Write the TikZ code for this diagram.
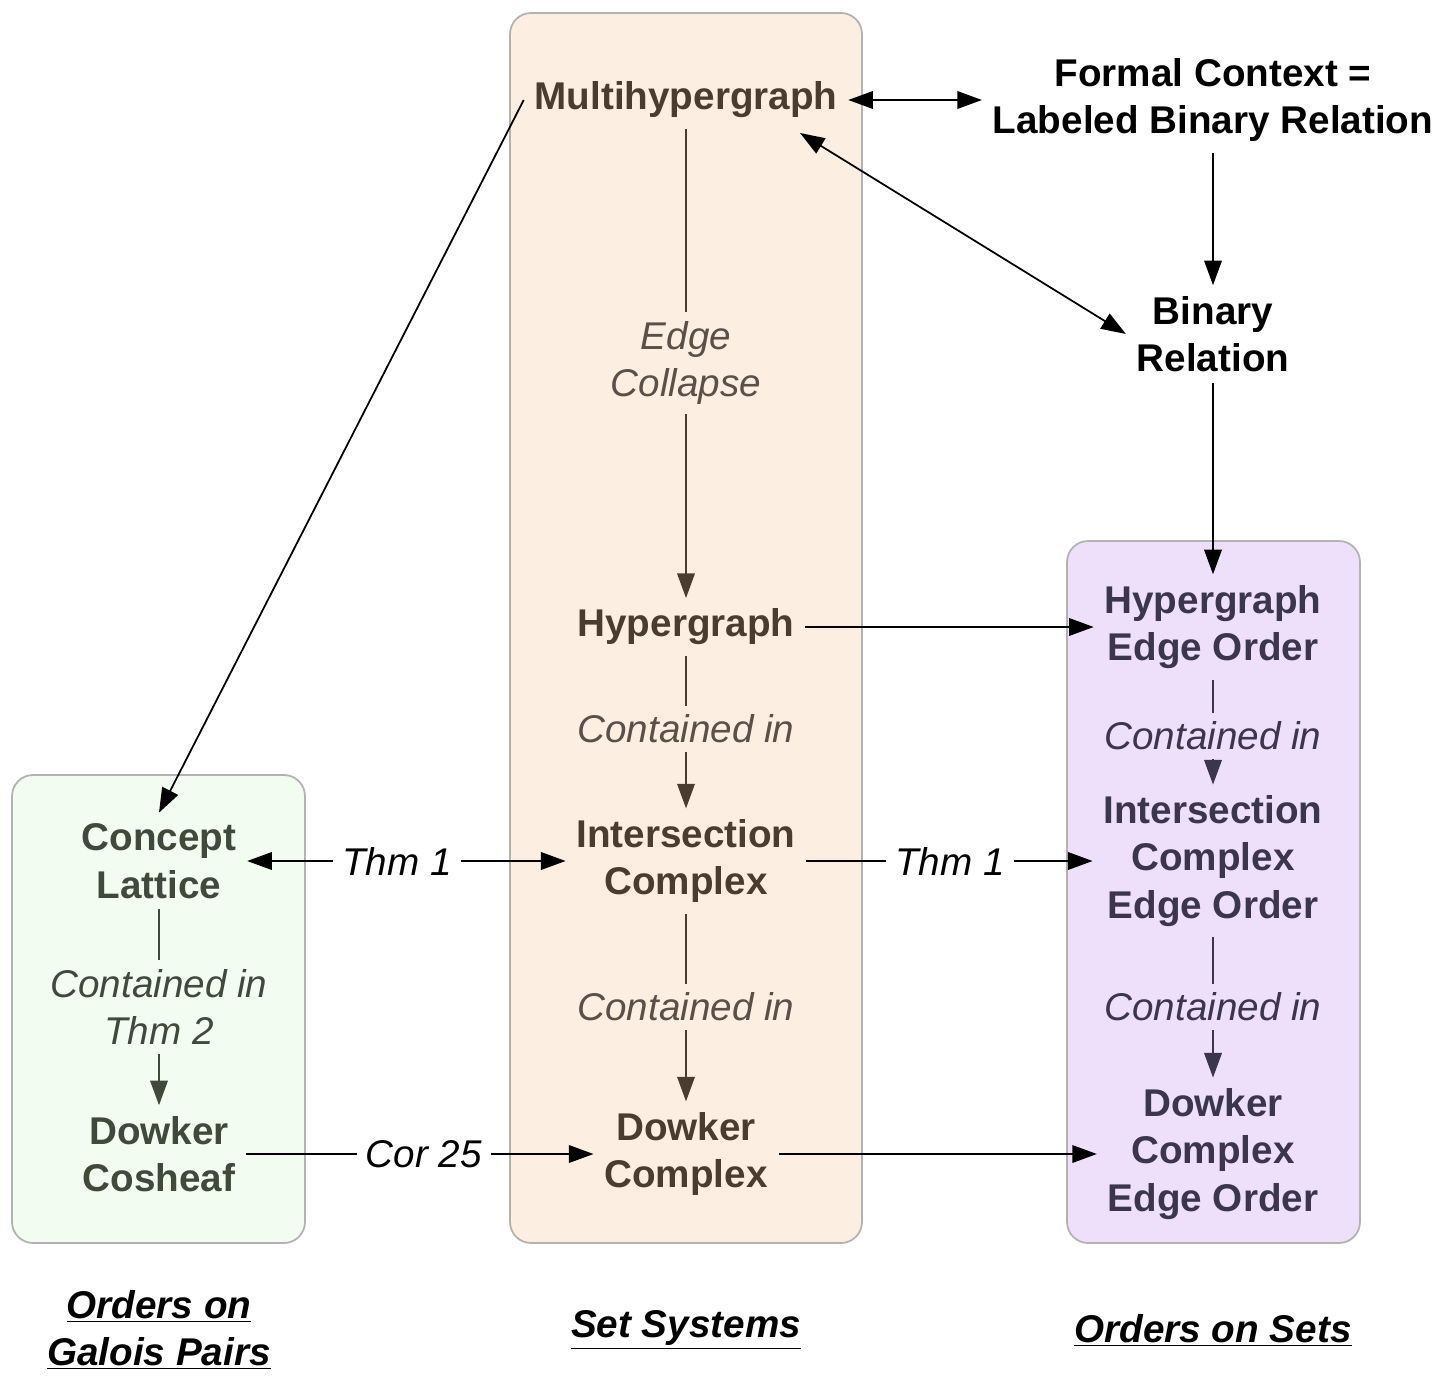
\documentclass[tikz,border=0pt]{standalone}
\usepackage{fontspec}
\setmainfont{Liberation Sans}
\usetikzlibrary{arrows.meta}
\definecolor{setfill}{HTML}{FCEFE2}
\definecolor{galfill}{HTML}{F2FCF0}
\definecolor{ordfill}{HTML}{EEE0FA}
\definecolor{settext}{HTML}{4A3C2E}
\definecolor{galtext}{HTML}{3E4A3A}
\definecolor{ordtext}{HTML}{3C3550}
\definecolor{labtext}{HTML}{5A5048}
\tikzset{
  panel/.style={draw=black!30, line width=1pt, rounded corners=12pt},
  item/.style={font=\fontsize{22}{27}\selectfont\bfseries, align=center, inner sep=6pt},
  lab/.style={font=\fontsize{22}{27}\selectfont\itshape, align=center, inner sep=5pt},
  title/.style={font=\fontsize{22}{27}\selectfont\bfseries\itshape, align=center},
  conn/.style={line width=1pt, -{Triangle[length=14pt,width=10pt]}},
  link/.style={line width=1pt}
}
\begin{document}
\begin{tikzpicture}[x=0.02cm,y=-0.02cm]
  \useasboundingbox (0,0) rectangle (1442,1382);
  % panels
  \filldraw[panel, fill=galfill] (12,775) rectangle (305,1243);
  \filldraw[panel, fill=setfill] (510,13) rectangle (862,1243);
  \filldraw[panel, fill=ordfill] (1067,541) rectangle (1360,1243);
  % set systems
  \node[item, text=settext] (multi) at (686,100) {Multihypergraph};
  \node[item, text=settext] (hyper) at (686,627) {Hypergraph};
  \node[item, text=settext] (inter) at (686,861) {Intersection\\Complex};
  \node[item, text=settext] (dowker) at (686,1154) {Dowker\\Complex};
  % top right
  \node[item] (formal) at (1213,100) {Formal Context =\\Labeled Binary Relation};
  \node[item] (binrel) at (1213,334) {Binary\\Relation};
  % orders on sets
  \node[item, text=ordtext] (hyperEO) at (1213,627) {Hypergraph\\Edge Order};
  \node[item, text=ordtext] (interEO) at (1213,861) {Intersection\\Complex\\Edge Order};
  \node[item, text=ordtext] (dowkerEO) at (1213,1154) {Dowker\\Complex\\Edge Order};
  % galois pairs
  \node[item, text=galtext] (concept) at (159,861) {Concept\\Lattice};
  \node[item, text=galtext] (cosheaf) at (159,1154) {Dowker\\Cosheaf};
  % edge labels
  \node[lab, text=labtext] (collapse) at (686,363) {Edge\\Collapse};
  \node[lab, text=labtext] (cin1) at (686,729) {Contained in};
  \node[lab, text=labtext] (cin2) at (686,1007) {Contained in};
  \node[lab, text=ordtext] (cin3) at (1213,736) {Contained in};
  \node[lab, text=ordtext] (cin4) at (1213,1007) {Contained in};
  \node[lab, text=galtext] (cin5) at (159,1007) {Contained in\\Thm 2};
  \node[lab] (thmA) at (397,861) {Thm 1};
  \node[lab] (thmB) at (950,861) {Thm 1};
  \node[lab] (cor) at (424,1154) {Cor 25};
  \coordinate (multiSE) at (800,133);
  % titles
  \node[title] (tGal) at (159,1330) {\underline{Orders on}\\\underline{Galois Pairs}};
  \node[title] (tSet) at (686,1330) {\underline{Set Systems}};
  \node[title] (tOrd) at (1213,1330) {\underline{Orders on Sets}};
  % connectors
  \draw[conn, {Triangle[length=14pt,width=10pt]}-{Triangle[length=14pt,width=10pt]}] (multi) -- (formal);
  \draw[conn, {Triangle[length=14pt,width=10pt]}-{Triangle[length=14pt,width=10pt]}] (multiSE) -- (binrel.west);
  \draw[conn] (formal) -- (binrel);
  \draw[conn] (binrel) -- (hyperEO);
  \draw[conn] (multi.west) -- (concept.north);
  \draw[link, settext] (multi) -- (collapse);
  \draw[conn, settext] (collapse) -- (hyper);
  \draw[link, settext] (hyper) -- (cin1);
  \draw[conn, settext] (cin1) -- (inter);
  \draw[link, settext] (inter) -- (cin2);
  \draw[conn, settext] (cin2) -- (dowker);
  \draw[link, ordtext] (hyperEO) -- (cin3);
  \draw[conn, ordtext] (cin3) -- (interEO);
  \draw[link, ordtext] (interEO) -- (cin4);
  \draw[conn, ordtext] (cin4) -- (dowkerEO);
  \draw[link, galtext] (concept) -- (cin5);
  \draw[conn, galtext] (cin5) -- (cosheaf);
  \draw[conn] (hyper) -- (hyperEO);
  \draw[conn] (thmA) -- (concept);
  \draw[conn] (thmA) -- (inter);
  \draw[link] (inter) -- (thmB);
  \draw[conn] (thmB) -- (interEO);
  \draw[link] (cosheaf) -- (cor);
  \draw[conn] (cor) -- (dowker);
  \draw[conn] (dowker) -- (dowkerEO);
\end{tikzpicture}
\end{document}
